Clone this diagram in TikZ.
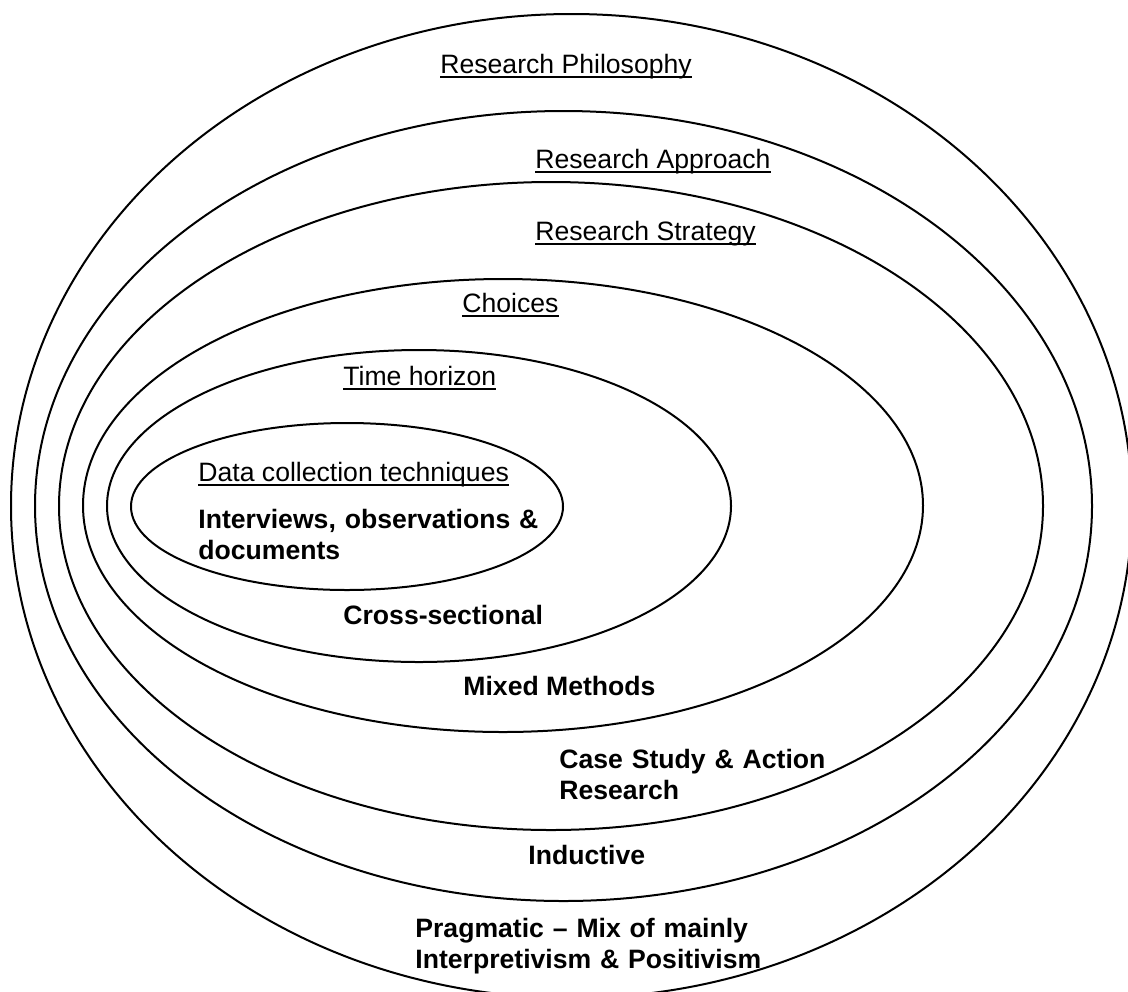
\documentclass[tikz,border=0pt]{standalone}
\usepackage{fontspec}
\setmainfont{Liberation Sans}
\usetikzlibrary{shapes.geometric}

% underline at a fixed depth below the baseline, independent of descenders
\newcommand\ulab[1]{\setbox0=\hbox{#1}\rlap{\rule[-0.2em]{\wd0}{0.075em}}\box0}

\tikzset{
  layer/.style={draw=black, line width=1pt, ellipse, inner sep=0pt, outer sep=0pt},
  heading/.style={anchor=base west, inner sep=0pt,
    font=\fontsize{13.3pt}{15.5pt}\selectfont},
  answer/.style={anchor=base west, inner sep=0pt, align=left,
    font=\fontsize{13.3pt}{15.5pt}\selectfont\bfseries},
  answer2/.style={answer, text width=#1}
}

\begin{document}
\begin{tikzpicture}[x=0.5pt, y=-0.5pt]
  \clip (0,0) rectangle (1128,991);
  \fill[white] (0,0) rectangle (1128,991);

  % nested layers of the research onion
  \node[layer, minimum width=560.5pt, minimum height=492pt] (philosophy) at (571.5,506) {};
  \node[layer, minimum width=528.5pt, minimum height=395pt] (approach)   at (563.5,506) {};
  \node[layer, minimum width=492pt,   minimum height=324pt] (strategy)   at (551,506) {};
  \node[layer, minimum width=420pt,   minimum height=226.5pt] (choices)  at (503,505.5) {};
  \node[layer, minimum width=312pt,   minimum height=156pt] (horizon)    at (419,506) {};
  \node[layer, minimum width=216pt,   minimum height=83.5pt] (data)      at (347,506.5) {};

  % layer headings
  \node[heading] (hphil) at (440,73)  {\ulab{Research Philosophy}};
  \node[heading] (happr) at (535,168) {\ulab{Research Approach}};
  \node[heading] (hstra) at (535,240) {\ulab{Research Strategy}};
  \node[heading] (hcho)  at (462,312) {\ulab{Choices}};
  \node[heading] (htime) at (343,385) {\ulab{Time horizon}};
  \node[heading] (hdata) at (198,481) {\ulab{Data collection techniques}};

  % selections made in each layer
  \node[answer2=180pt] (adata) at (198,528) {Interviews, observations \&\\documents};
  \node[answer] (atime) at (343,624) {Cross-sectional};
  \node[answer] (acho)  at (463,695) {Mixed Methods};
  \node[answer2=150pt] (astra) at (559,768) {Case Study \& Action\\Research};
  \node[answer] (aappr) at (528,864) {Inductive};
  \node[answer2=200pt] (aphil) at (415,937) {Pragmatic – Mix of mainly\\Interpretivism \& Positivism};
\end{tikzpicture}
\end{document}
